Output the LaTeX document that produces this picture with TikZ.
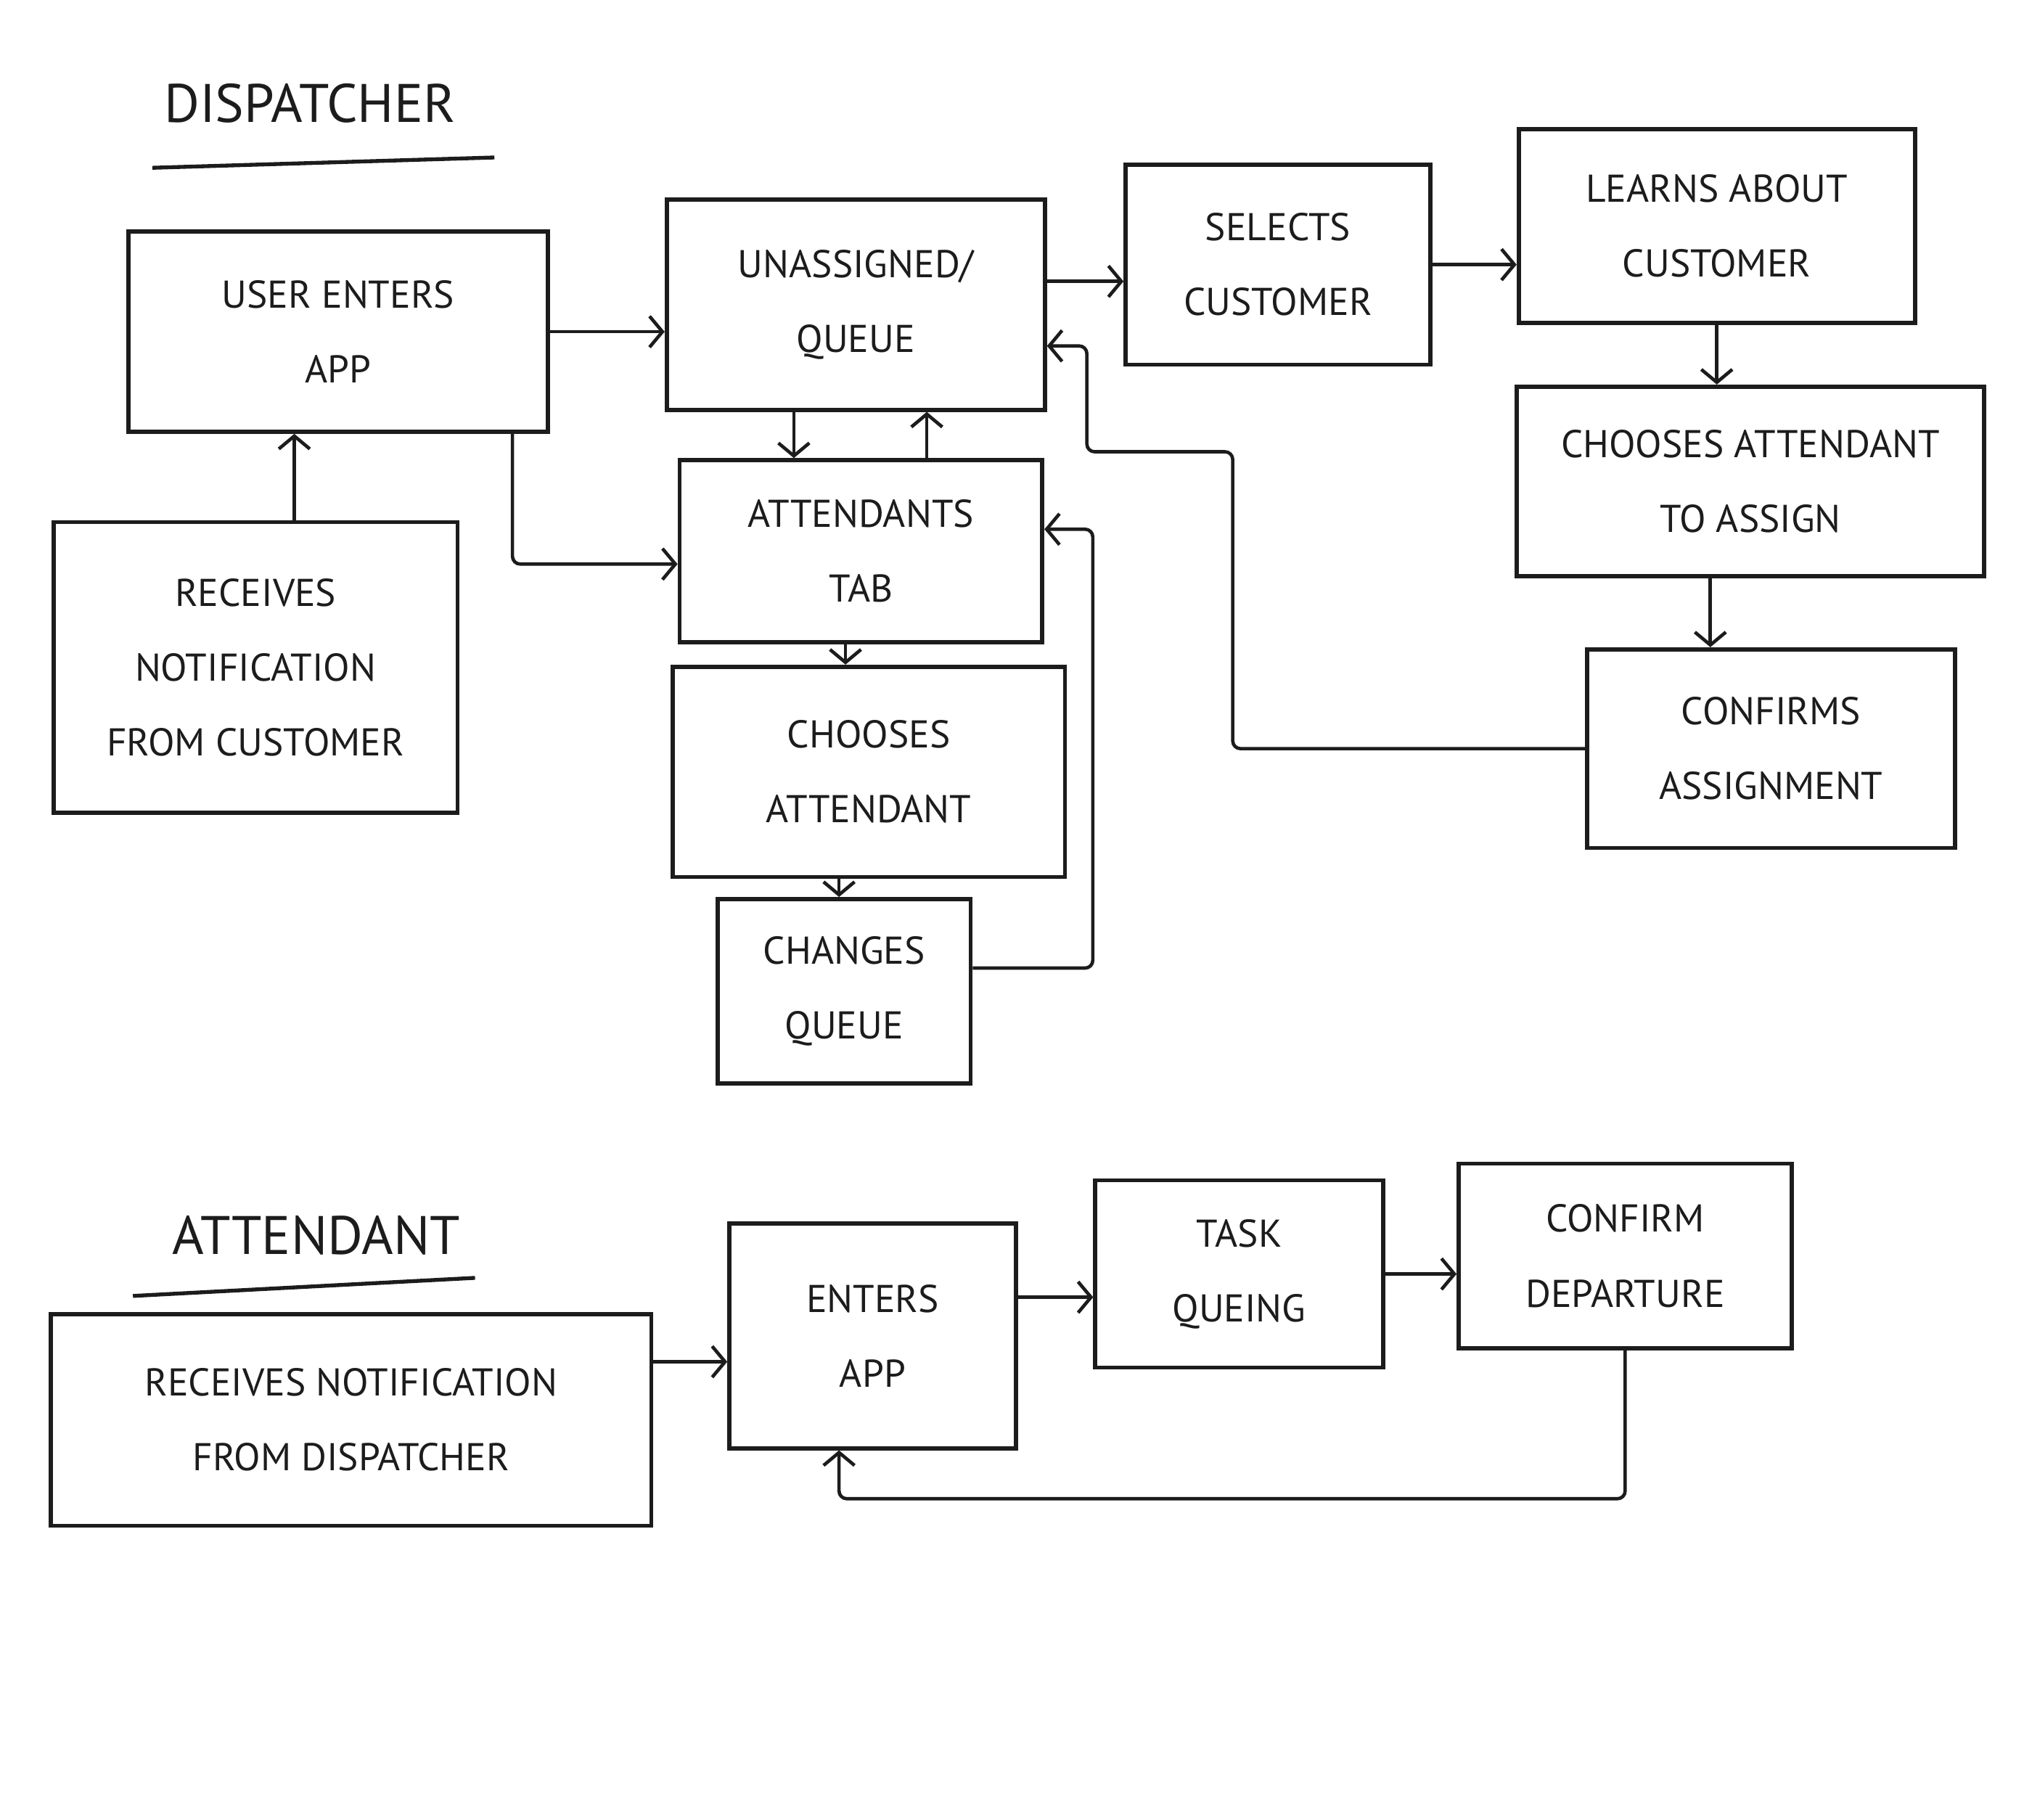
\documentclass[tikz,border=0pt]{standalone}
\usepackage{fontspec}
\setmainfont{PT Sans}
\usetikzlibrary{arrows.meta}
\definecolor{pencil}{RGB}{28,28,28}

\begin{document}
\begin{tikzpicture}[x=1pt,y=-1pt,
 box/.style={draw=pencil,line width=3.2pt,align=center,inner sep=0pt,text=pencil,font=\fontsize{30}{58}\selectfont},
 link/.style={draw=pencil,line width=2.6pt,rounded corners=6pt,-{Straight Barb[length=10pt,width=24pt]}},
 title/.style={text=pencil,font=\fontsize{42}{50}\selectfont}]
 \useasboundingbox (0,0) rectangle (1568,1410);
 % dispatcher side
 \node[title](dispatcher)at(240,80){DISPATCHER};
 \draw[pencil,line width=3pt](118,130)--(383,122);
 \node[box,minimum width=325pt,minimum height=155pt](userapp)at(262,257){USER ENTERS\\APP};
 \node[box,minimum width=293pt,minimum height=163pt](queue)at(663,236){UNASSIGNED/\\QUEUE};
 \node[box,minimum width=236pt,minimum height=155pt](selects)at(990,205){SELECTS\\CUSTOMER};
 \node[box,minimum width=307pt,minimum height=150pt](learns)at(1330,175){LEARNS ABOUT\\CUSTOMER};
 \node[box,minimum width=362pt,minimum height=147pt](assign)at(1356,373){CHOOSES ATTENDANT\\TO ASSIGN};
 \node[box,minimum width=285pt,minimum height=154pt](confirms)at(1372,580){CONFIRMS\\ASSIGNMENT};
 \node[box,minimum width=313pt,minimum height=225pt](recvcust)at(198,517){RECEIVES\\NOTIFICATION\\FROM CUSTOMER};
 \node[box,minimum width=281pt,minimum height=141pt](tab)at(667,427){ATTENDANTS\\TAB};
 \node[box,minimum width=304pt,minimum height=163pt](chooses)at(673,598){CHOOSES\\ATTENDANT};
 \node[box,minimum width=196pt,minimum height=143pt](changes)at(654,768){CHANGES\\QUEUE};

 \draw[link](userapp.east)--(userapp.east-|queue.west);
 \draw[link]([xshift=30pt]recvcust.north)--([xshift=30pt]recvcust.north|-userapp.south);
 \draw[link]([xshift=135pt]userapp.south)|-([yshift=-10pt]tab.west);
 \draw[link]([xshift=-48pt]queue.south)--([xshift=-48pt]queue.south|-tab.north);
 \draw[link]([xshift=51pt]tab.north)--([xshift=51pt]tab.north|-queue.south);
 \draw[link]([yshift=18pt]queue.east)--([yshift=18pt]queue.east-|selects.west);
 \draw[link](selects.east)--(selects.east-|learns.west);
 \draw[link](learns.south)--(learns.south|-assign.north);
 \draw[link]([xshift=-31pt]assign.south)--([xshift=-31pt]assign.south|-confirms.north);
 \draw[link](confirms.west)-|(955,350)-|(842,300)|-([yshift=-32pt]queue.east);
 \draw[link]([xshift=-12pt]tab.south)--([xshift=-12pt]tab.south|-chooses.north);
 \draw[link]([xshift=-23pt]chooses.south)--([xshift=-23pt]chooses.south|-changes.north);
 \draw[link]([yshift=18pt]changes.east)--++(93,0)|-([yshift=17pt]tab.east);

 % attendant side
 \node[title](attendant)at(245,957){ATTENDANT};
 \draw[pencil,line width=3pt](103,1004)--(368,990);
 \node[box,minimum width=465pt,minimum height=164pt](recvdisp)at(272,1100){RECEIVES NOTIFICATION\\FROM DISPATCHER};
 \node[box,minimum width=222pt,minimum height=174pt](enters)at(676,1035){ENTERS\\APP};
 \node[box,minimum width=223pt,minimum height=145pt](task)at(960,987){TASK\\QUEING};
 \node[box,minimum width=258pt,minimum height=143pt](departure)at(1259,973){CONFIRM\\DEPARTURE};

 \draw[link]([yshift=45pt]recvdisp.east)--([yshift=45pt]recvdisp.east-|enters.west);
 \draw[link]([yshift=30pt]enters.east)--([yshift=30pt]enters.east-|task.west);
 \draw[link](task.east)--(task.east-|departure.west);
 \draw[link](departure.south)--++(0,115)-|([xshift=-26pt]enters.south);
\end{tikzpicture}
\end{document}
